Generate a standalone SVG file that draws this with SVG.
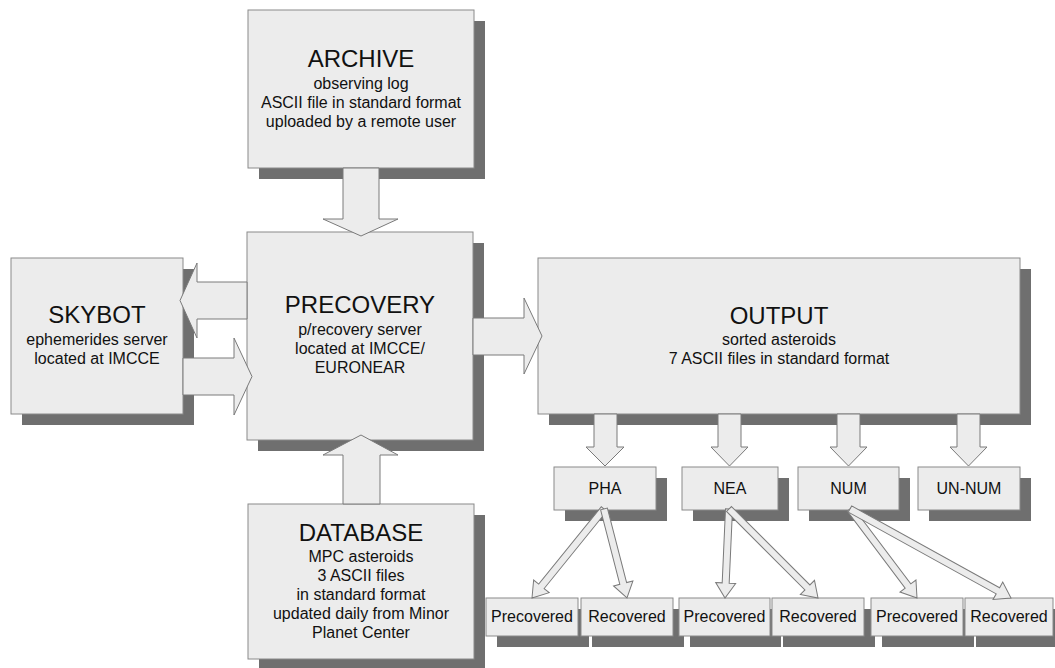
<svg xmlns="http://www.w3.org/2000/svg" width="1055" height="668" viewBox="0 0 1055 668">
<style>
.bg{fill:#ffffff}
.sh{fill:#6f6f6f}
.bx{fill:#ececec;stroke:#8a8a8a;stroke-width:1}
.ar{fill:#ececec;stroke:#7a7a7a;stroke-width:1;stroke-linejoin:miter}
text{font-family:"Liberation Sans",Arial,sans-serif;fill:#111;text-anchor:middle}
.t{font-size:24px}
.s{font-size:16px}
</style>
<rect class="bg" x="0" y="0" width="1055" height="668"/>

<g id="archive">
<rect class="sh" x="259" y="21" width="226" height="158"/>
<rect class="bx" x="248" y="10" width="226" height="158"/>
<text class="t" x="361" y="67">ARCHIVE</text>
<text class="s" x="361" y="89">observing log</text>
<text class="s" x="361" y="108">ASCII file in standard format</text>
<text class="s" x="361" y="127">uploaded by a remote user</text>
</g>

<g id="skybot">
<rect class="sh" x="22" y="269" width="172" height="156"/>
<rect class="bx" x="11" y="258" width="172" height="156"/>
<text class="t" x="97" y="323">SKYBOT</text>
<text class="s" x="97" y="345">ephemerides server</text>
<text class="s" x="97" y="364">located at IMCCE</text>
</g>

<g id="precovery">
<rect class="sh" x="258" y="243" width="226" height="208"/>
<rect class="bx" x="247" y="232" width="226" height="208"/>
<text class="t" x="360" y="313">PRECOVERY</text>
<text class="s" x="360" y="335">p/recovery server</text>
<text class="s" x="360" y="354">located at IMCCE/</text>
<text class="s" x="360" y="373">EURONEAR</text>
</g>

<g id="database">
<rect class="sh" x="259" y="515" width="226" height="155"/>
<rect class="bx" x="248" y="504" width="226" height="155"/>
<text class="t" x="361" y="541">DATABASE</text>
<text class="s" x="361" y="562">MPC asteroids</text>
<text class="s" x="361" y="581">3 ASCII files</text>
<text class="s" x="361" y="600">in standard format</text>
<text class="s" x="361" y="619">updated daily from Minor</text>
<text class="s" x="361" y="638">Planet Center</text>
</g>

<g id="output">
<rect class="sh" x="549" y="269" width="482" height="156"/>
<rect class="bx" x="538" y="258" width="482" height="156"/>
<text class="t" x="779" y="324">OUTPUT</text>
<text class="s" x="779" y="345">sorted asteroids</text>
<text class="s" x="779" y="364">7 ASCII files in standard format</text>
</g>

<g id="pha">
<rect class="sh" x="565" y="478" width="102" height="43"/>
<rect class="bx" x="554" y="467" width="102" height="43"/>
<text class="s" x="605" y="494">PHA</text>
</g>
<g id="nea">
<rect class="sh" x="693" y="478" width="96" height="43"/>
<rect class="bx" x="682" y="467" width="96" height="43"/>
<text class="s" x="730" y="494">NEA</text>
</g>
<g id="num">
<rect class="sh" x="809" y="478" width="101" height="43"/>
<rect class="bx" x="798" y="467" width="101" height="43"/>
<text class="s" x="848.5" y="494">NUM</text>
</g>
<g id="unnum">
<rect class="sh" x="929" y="478" width="102" height="43"/>
<rect class="bx" x="918" y="467" width="102" height="43"/>
<text class="s" x="969" y="494">UN-NUM</text>
</g>

<g id="pha-precovered">
<rect class="sh" x="497" y="609" width="92" height="38"/>
<rect class="bx" x="486" y="598" width="92" height="38"/>
<text class="s" x="532" y="622">Precovered</text>
</g>
<g id="pha-recovered">
<rect class="sh" x="592" y="609" width="92" height="38"/>
<rect class="bx" x="581" y="598" width="92" height="38"/>
<text class="s" x="627" y="622">Recovered</text>
</g>
<g id="nea-precovered">
<rect class="sh" x="690" y="609" width="91" height="38"/>
<rect class="bx" x="679" y="598" width="91" height="38"/>
<text class="s" x="724.5" y="622">Precovered</text>
</g>
<g id="nea-recovered">
<rect class="sh" x="783" y="609" width="92" height="38"/>
<rect class="bx" x="772" y="598" width="92" height="38"/>
<text class="s" x="818" y="622">Recovered</text>
</g>
<g id="num-precovered">
<rect class="sh" x="882" y="609" width="92" height="38"/>
<rect class="bx" x="871" y="598" width="92" height="38"/>
<text class="s" x="917" y="622">Precovered</text>
</g>
<g id="num-recovered">
<rect class="sh" x="976" y="609" width="90" height="38"/>
<rect class="bx" x="965" y="598" width="88" height="38"/>
<text class="s" x="1009" y="622">Recovered</text>
</g>

<g id="connectors">
<path class="ar" d="M343,168 L379,168 L379,219 L398,219 L361,236 L323,219 L343,219 Z"/>
<path class="ar" d="M343,504 L380,504 L380,455 L398,455 L361,435 L323,455 L343,455 Z"/>
<path class="ar" d="M247,282 L197,282 L197,263 L180,300.5 L197,338 L197,319 L247,319 Z"/>
<path class="ar" d="M183,358 L234,358 L234,338 L252,376.5 L234,415 L234,395 L183,395 Z"/>
<path class="ar" d="M473,318 L524,318 L524,298 L542,336 L524,374 L524,355 L473,355 Z"/>
<path class="ar" d="M594,414 L617,414 L617,447 L624,447 L605,466 L586,447 L594,447 Z"/>
<path class="ar" d="M718,414 L741,414 L741,447 L748,447 L729.5,466 L711,447 L718,447 Z"/>
<path class="ar" d="M837,414 L860,414 L860,447 L867,447 L848.5,466 L830,447 L837,447 Z"/>
<path class="ar" d="M957,414 L980,414 L980,447 L987,447 L968.5,466 L950,447 L957,447 Z"/>
<path class="ar" transform="translate(604,509) rotate(128.97)" d="M0,-3.5 H99.5 V-10 L114.5,0 L99.5,10 V3.5 H0 Z"/>
<path class="ar" transform="translate(604,509) rotate(75.52)" d="M0,-3.5 H76.9 V-10 L91.9,0 L76.9,10 V3.5 H0 Z"/>
<path class="ar" transform="translate(729,509) rotate(92.57)" d="M0,-3.5 H74.1 V-10 L89.1,0 L74.1,10 V3.5 H0 Z"/>
<path class="ar" transform="translate(729,509) rotate(45)" d="M0,-3.5 H110.9 V-10 L125.9,0 L110.9,10 V3.5 H0 Z"/>
<path class="ar" transform="translate(850,509) rotate(53.03)" d="M0,-3.5 H96.4 V-10 L111.4,0 L96.4,10 V3.5 H0 Z"/>
<path class="ar" transform="translate(850,509) rotate(28.94)" d="M0,-3.5 H169 V-10 L184,0 L169,10 V3.5 H0 Z"/>
</g>
</svg>
